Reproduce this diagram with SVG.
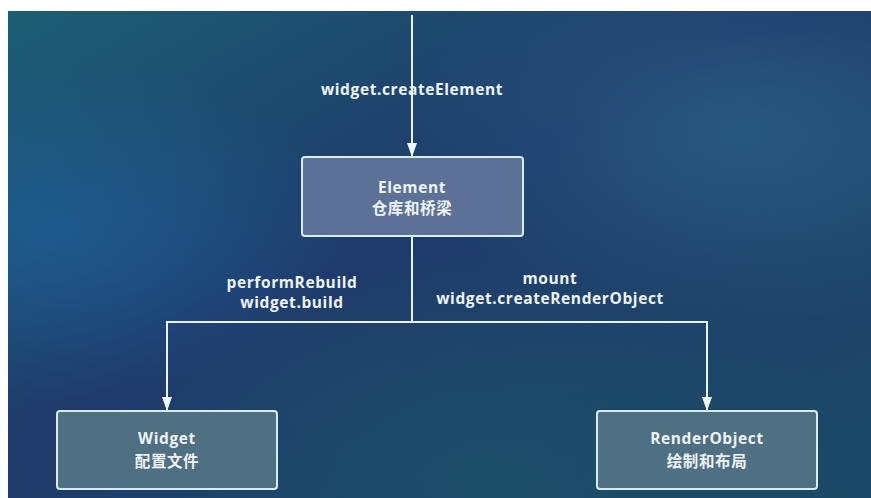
<svg xmlns="http://www.w3.org/2000/svg" width="871" height="498" viewBox="0 0 871 498">
<defs>
<linearGradient id="bg" x1="0" y1="0" x2="1" y2="1">
<stop offset="0" stop-color="#1c5e72"/>
<stop offset="0.45" stop-color="#1f3a6c"/>
<stop offset="1" stop-color="#1c4a66"/>
</linearGradient>
<radialGradient id="glow1" cx="0.05" cy="0.45" r="0.35">
<stop offset="0" stop-color="#1f64a0" stop-opacity="0.6"/>
<stop offset="1" stop-color="#1f64a0" stop-opacity="0"/>
</radialGradient>
<radialGradient id="glow2" cx="0.85" cy="0.25" r="0.4">
<stop offset="0" stop-color="#2f6a8c" stop-opacity="0.6"/>
<stop offset="1" stop-color="#2f6a8c" stop-opacity="0"/>
</radialGradient>
<radialGradient id="glow3" cx="0.55" cy="0.95" r="0.45">
<stop offset="0" stop-color="#1d5468" stop-opacity="0.7"/>
<stop offset="1" stop-color="#1d5468" stop-opacity="0"/>
</radialGradient>
<marker id="arr" markerWidth="14" markerHeight="12" refX="13" refY="6" orient="auto" markerUnits="userSpaceOnUse">
<path d="M0,1 L14,6 L0,11 Z" fill="#eef7f8"/>
</marker>
<style>
.box{stroke:#d6ecef;stroke-width:2}
.el{fill:#5b7195}
.lo{fill:#4f6f82}
.t{font-family:"Open Sans","Noto Sans CJK SC",sans-serif;font-weight:bold;fill:#eef3f5;text-anchor:middle;font-size:15.5px;letter-spacing:0.6px}
.c{stroke:#e6f2f4;stroke-width:2;fill:none}
</style>
</defs>
<rect x="0" y="0" width="871" height="498" fill="#ffffff"/>
<rect x="8" y="11" width="863" height="487" fill="url(#bg)"/>
<rect x="8" y="11" width="863" height="487" fill="url(#glow1)"/>
<rect x="8" y="11" width="863" height="487" fill="url(#glow2)"/>
<rect x="8" y="11" width="863" height="487" fill="url(#glow3)"/>
<g id="connectors">
<line class="c" x1="412" y1="15" x2="412" y2="156" marker-end="url(#arr)"/>
<path class="c" d="M412,236 V322"/>
<path class="c" d="M412,322 H167 V410" marker-end="url(#arr)"/>
<path class="c" d="M412,322 H707 V410" marker-end="url(#arr)"/>
<text class="t" x="412" y="95">widget.createElement</text>
<text class="t" x="292" y="288">performRebuild</text>
<text class="t" x="292" y="308">widget.build</text>
<text class="t" x="550" y="284">mount</text>
<text class="t" x="550" y="304">widget.createRenderObject</text>
</g>
<g id="element">
<rect class="box el" x="302" y="157" width="221" height="79" rx="3"/>
<text class="t" x="412" y="193">Element</text>
<text class="t" x="412" y="214">仓库和桥梁</text>
</g>
<g id="widget">
<rect class="box lo" x="57" y="411" width="220" height="78" rx="3"/>
<text class="t" x="167" y="444">Widget</text>
<text class="t" x="167" y="467">配置文件</text>
</g>
<g id="renderobject">
<rect class="box lo" x="597" y="411" width="220" height="78" rx="3"/>
<text class="t" x="707" y="444">RenderObject</text>
<text class="t" x="707" y="467">绘制和布局</text>
</g>
</svg>
